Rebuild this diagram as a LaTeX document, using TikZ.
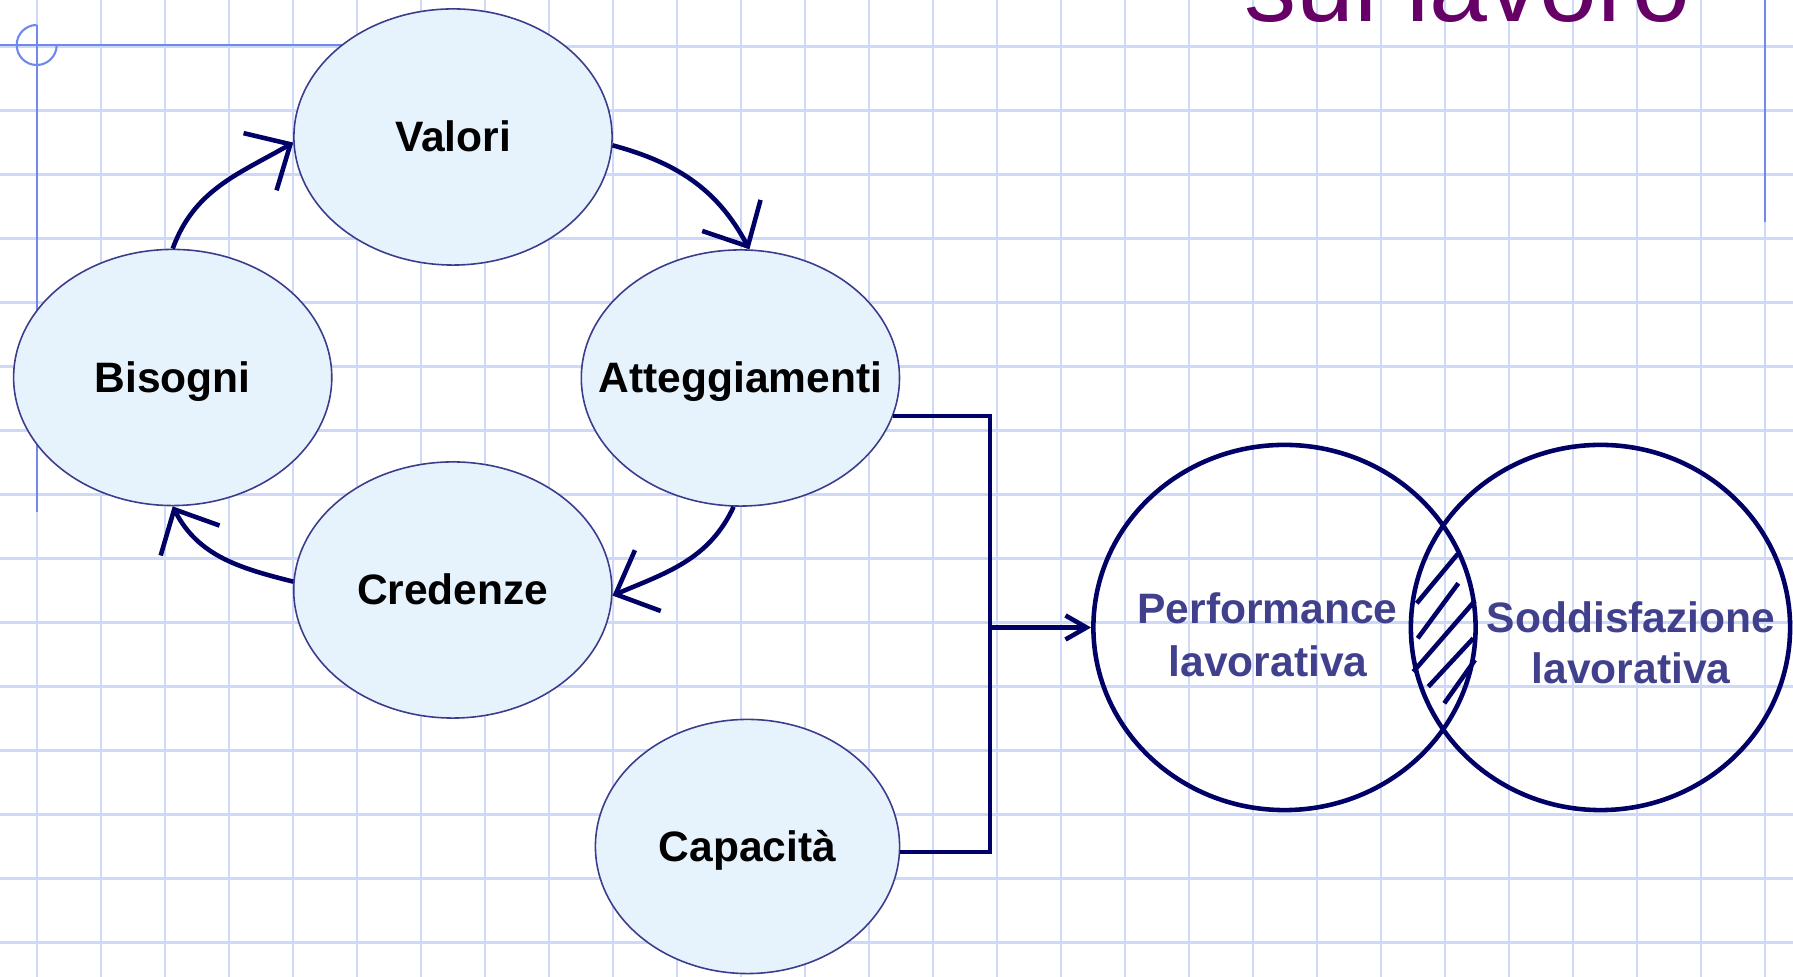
\documentclass[tikz,border=0pt]{standalone}
\usepackage{fontspec}
\setmainfont{Liberation Sans}
\usetikzlibrary{arrows.meta,shapes.geometric}
\definecolor{gridc}{RGB}{205,217,247}
\definecolor{guide}{RGB}{112,136,238}
\definecolor{navy}{RGB}{0,0,102}
\definecolor{ellfill}{RGB}{230,243,253}
\definecolor{elldraw}{RGB}{60,60,140}
\definecolor{titlec}{RGB}{102,0,102}
\definecolor{venntext}{RGB}{64,64,140}
\newcommand{\zw}[1]{\makebox[0pt]{#1}}
\begin{document}
\begin{tikzpicture}[x=0.01cm,y=0.01cm,
  bubble/.style={ellipse, draw=elldraw, line width=0.45pt, fill=ellfill,
    minimum width=3.18cm, minimum height=2.56cm, inner sep=0pt,
    font=\fontsize{12.1pt}{14pt}\selectfont\bfseries, text height=0.3cm, text depth=0pt},
  flow/.style={draw=navy, line width=1.3pt, -{Straight Barb[length=0.35cm,width=0.66cm]}},
  link/.style={draw=navy, line width=1.3pt},
  venn/.style={ellipse, draw=navy, line width=1.3pt, inner sep=0pt},
  vtext/.style={text=venntext, font=\fontsize{12.1pt}{14pt}\selectfont\bfseries, anchor=base, inner sep=0pt},
  gridline/.style={draw=gridc, line width=0.6pt},
  guideline/.style={draw=guide, line width=0.6pt},
  hatch/.style={draw=navy, line width=1.3pt},
]
\useasboundingbox (0,-977) rectangle (1793,0);
\fill[white] (0,-977) rectangle (1793,0);
% grid
\foreach \i in {0,...,27} \draw[gridline] ({36.7+64*\i},0) -- ({36.7+64*\i},-977);
\foreach \j in {0,...,14} \draw[gridline] (0,{-46.5-64*\j}) -- (1793,{-46.5-64*\j});
% guide lines
\draw[guideline] (0,-45) -- (453,-45);
\draw[guideline] (36.7,-25) -- (36.7,-511.7);
\draw[guideline] (36.7,-25) arc[start angle=90, end angle=360, radius=0.2cm];
\draw[guideline] (1765,0) -- (1765,-222);
% title
\node[text=titlec, anchor=base west, inner sep=0pt, font=\fontsize{29.6pt}{34pt}\selectfont] (title) at (1244,-22) {sul lavoro};
% bubbles
\node[bubble] (valori) at (453,-137) {\zw{Valori}};
\node[bubble] (bisogni) at (172.7,-377.5) {\zw{Bisogni}};
\node[bubble] (att) at (740.4,-378) {\zw{Atteggiamenti}};
\node[bubble] (cred) at (452.8,-590) {\zw{Credenze}};
\node[bubble, minimum width=3.04cm, minimum height=2.54cm] (cap) at (747.5,-846.5) {\zw{Capacità}};
% cycle arrows
\draw[flow] (bisogni.north) to[out=70,in=210] (valori.182);
\draw[flow] (valori.-3) to[out=-15,in=118] (att.86);
\draw[flow] (att.-93) to[out=-115,in=23] (cred.-2);
\draw[flow] (cred.177) to[out=166,in=-63] (bisogni.south);
% bracket connector
\coordinate (J) at (990,-627.5);
\draw[link] (att.-14) -- (att.-14 -| J) -- (cap.-2 -| J) -- (cap.-2);
% venn
\node[venn, minimum width=3.82cm, minimum height=3.65cm] (perf) at (1284.5,-627.5) {};
\node[venn, minimum width=3.79cm, minimum height=3.65cm] (sodd) at (1600.5,-627.5) {};
\draw[link, -{Straight Barb[length=0.21cm,width=0.24cm]}] (J) -- (perf.west);
% hatch
\draw[hatch] (1416.7,-603.3) -- (1457.7,-554);
\draw[hatch] (1417.7,-638.3) -- (1458.3,-583.3);
\draw[hatch] (1413.3,-671.7) -- (1475,-600.7);
\draw[hatch] (1428.3,-686.7) -- (1473.3,-638.3);
\draw[hatch] (1444.3,-703.3) -- (1475,-660);
% venn texts
\node[vtext] (perfA) at (1267.5,-623.3) {Performance};
\node[vtext] (perfB) at (1268,-676.7) {lavorativa};
\node[vtext] (soddA) at (1631,-632.7) {Soddisfazione};
\node[vtext] (soddB) at (1631,-684) {lavorativa};
\end{tikzpicture}
\end{document}
